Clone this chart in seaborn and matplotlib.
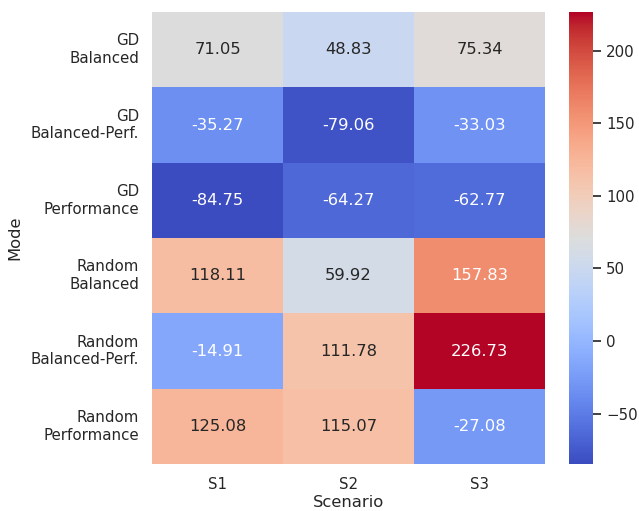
import matplotlib
matplotlib.use("Agg")
import matplotlib.pyplot as plt
import seaborn as sns
import pandas as pd
import numpy as np

sns.set_theme()

modes = ["GD\nBalanced", "GD\nBalanced-Perf.", "GD\nPerformance",
         "Random\nBalanced", "Random\nBalanced-Perf.", "Random\nPerformance"]
scenarios = ["S1", "S2", "S3"]
s1 = [71.05, -35.27, -84.75, 118.11, -14.91, 125.08]
s2 = [48.83, -79.06, -64.27, 59.92, 111.78, 115.07]
s3 = [75.34, -33.03, -62.77, 157.83, 226.73, -27.08]

df = pd.DataFrame({"S1": s1, "S2": s2, "S3": s3}, index=modes)
df.index.name = "Mode"
df.columns.name = "Scenario"

DPI = 98
fig = plt.figure(figsize=(639 / DPI, 511 / DPI), dpi=DPI)
ax = fig.add_axes([152 / 639, 47 / 511, 393 / 639, 452 / 511])
cax = fig.add_axes([569 / 639, 47 / 511, 24 / 639, 452 / 511])
sns.heatmap(df, annot=True, fmt=".2f", cmap="coolwarm", ax=ax, cbar_ax=cax)
ax.set_yticklabels(ax.get_yticklabels(), rotation=0)
ax.xaxis.labelpad = 2
ax.yaxis.labelpad = 6
fig.savefig("out.png", dpi=DPI)
